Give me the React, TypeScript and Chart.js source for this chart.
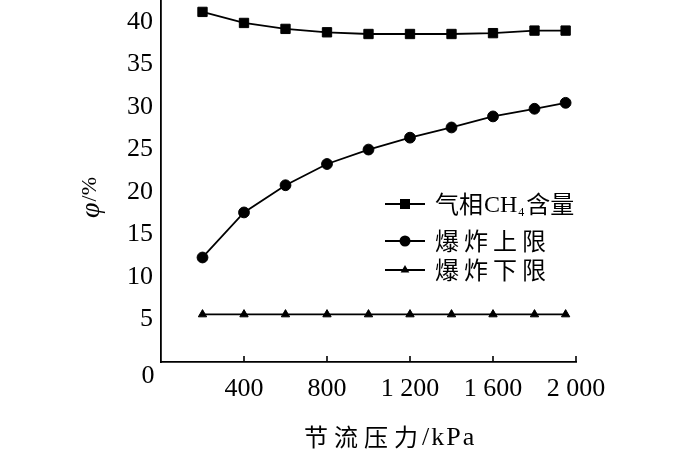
import React, { useEffect, useRef } from "react";
import { Chart, registerables } from "chart.js";
Chart.register(...registerables);

const pressure = [200, 400, 600, 800, 1000, 1200, 1400, 1600, 1800, 1950];
const ch4Content = [41.2, 39.9, 39.2, 38.8, 38.6, 38.6, 38.6, 38.7, 39.0, 39.0];
const upperLimit = [12.3, 17.6, 20.8, 23.3, 25.0, 26.4, 27.6, 28.9, 29.8, 30.5];
const lowerLimit = [5.6, 5.6, 5.6, 5.6, 5.6, 5.6, 5.6, 5.6, 5.6, 5.6];

const xTicks = [400, 800, 1200, 1600, 2000];
const xTickLabels = ["400", "800", "1 200", "1 600", "2 000"];
const yTicks = [5, 10, 15, 20, 25, 30, 35, 40];
const originLabel = "0";
const xTitleCjk = "节流压力";
const xTitleUnit = "/kPa";
const yTitleSymbol = "φ";
const yTitleUnit = "/%";
const seriesNames = ["爆炸上限", "爆炸下限"];
const ch4Name = { pre: "气相", chem: "CH", sub: "4", post: "含量" };

const SERIF = '"Liberation Serif", "DejaVu Serif", serif';
const CJK = '"Noto Sans CJK SC", sans-serif';

function drawMarker(ctx: CanvasRenderingContext2D, style: string, x: number, y: number) {
  ctx.beginPath();
  if (style === "rect") {
    ctx.rect(x - 5, y - 5, 10, 10);
  } else if (style === "circle") {
    ctx.arc(x, y, 5.5, 0, Math.PI * 2);
  } else {
    const r = 5;
    ctx.moveTo(x, y - r);
    ctx.lineTo(x + r * 0.866, y + r * 0.5);
    ctx.lineTo(x - r * 0.866, y + r * 0.5);
    ctx.closePath();
  }
  ctx.fill();
}

const decorPlugin = {
  id: "decor",
  afterDraw(chart: any) {
    const ctx: CanvasRenderingContext2D = chart.ctx;
    const xs = chart.scales.x;
    const ys = chart.scales.y;
    const y0 = ys.getPixelForValue(0);
    const left = chart.chartArea.left;
    ctx.save();
    ctx.strokeStyle = "#000";
    ctx.fillStyle = "#000";
    ctx.lineWidth = 1.6;
    // inward x ticks
    xTicks.forEach((v) => {
      const px = xs.getPixelForValue(v);
      ctx.beginPath();
      ctx.moveTo(px, y0);
      ctx.lineTo(px, y0 - 6);
      ctx.stroke();
    });
    // origin label
    ctx.font = `26px ${SERIF}`;
    ctx.textAlign = "center";
    ctx.textBaseline = "middle";
    ctx.fillText(originLabel, left - 13, y0 + 14);

    // x title
    ctx.textAlign = "left";
    ctx.textBaseline = "middle";
    (ctx as any).letterSpacing = "6px";
    ctx.font = `24px ${CJK}`;
    ctx.fillText(xTitleCjk, 304, 437);
    const w1 = ctx.measureText(xTitleCjk).width;
    (ctx as any).letterSpacing = "2px";
    ctx.font = `26px ${SERIF}`;
    ctx.fillText(xTitleUnit, 304 + w1 - 2, 438);

    // y title (rotated)
    ctx.save();
    ctx.translate(92, 198);
    ctx.rotate(-Math.PI / 2);
    (ctx as any).letterSpacing = "0px";
    ctx.font = `italic 28px ${SERIF}`;
    ctx.textAlign = "left";
    const ws = ctx.measureText(yTitleSymbol).width;
    ctx.font = `22px ${SERIF}`;
    const wu = ctx.measureText(yTitleUnit).width;
    const start = -(ws + wu) / 2;
    ctx.font = `italic 28px ${SERIF}`;
    ctx.fillText(yTitleSymbol, start, 0);
    ctx.font = `22px ${SERIF}`;
    ctx.fillText(yTitleUnit, start + ws + 1, -2);
    ctx.restore();

    // legend
    const rows = [
      { y: 204, style: "rect" },
      { y: 241, style: "circle" },
      { y: 270, style: "triangle" },
    ];
    rows.forEach((r) => {
      ctx.lineWidth = 1.8;
      ctx.beginPath();
      ctx.moveTo(385, r.y);
      ctx.lineTo(425, r.y);
      ctx.stroke();
      drawMarker(ctx, r.style, 405, r.y);
    });
    // row 1
    let tx = 435;
    (ctx as any).letterSpacing = "0px";
    ctx.font = `24px ${CJK}`;
    ctx.fillText(ch4Name.pre, tx, 204);
    tx += ctx.measureText(ch4Name.pre).width + 1;
    ctx.font = `24px ${SERIF}`;
    ctx.fillText(ch4Name.chem, tx, 206);
    tx += ctx.measureText(ch4Name.chem).width + 1;
    ctx.font = `12px ${SERIF}`;
    ctx.fillText(ch4Name.sub, tx, 213);
    tx += ctx.measureText(ch4Name.sub).width + 2;
    ctx.font = `24px ${CJK}`;
    ctx.fillText(ch4Name.post, tx, 204);
    // rows 2, 3
    (ctx as any).letterSpacing = "5px";
    ctx.fillText(seriesNames[0], 435, 241);
    ctx.fillText(seriesNames[1], 435, 270);
    ctx.restore();
  },
};

export default function App() {
  const ref = useRef<HTMLCanvasElement>(null);
  useEffect(() => {
    if (!ref.current) return;
    const common = {
      borderColor: "#000",
      backgroundColor: "#000",
      pointBackgroundColor: "#000",
      pointBorderColor: "#000",
      borderWidth: 1.8,
      pointBorderWidth: 1,
      tension: 0,
      clip: false as any,
    };
    const chart = new Chart(ref.current, {
      type: "line",
      data: {
        datasets: [
          { ...common, label: "气相CH4含量", data: pressure.map((p, i) => ({ x: p, y: ch4Content[i] })), pointStyle: "rect", pointRadius: 6.6 },
          { ...common, label: seriesNames[0], data: pressure.map((p, i) => ({ x: p, y: upperLimit[i] })), pointStyle: "circle", pointRadius: 5.4 },
          { ...common, label: seriesNames[1], data: pressure.map((p, i) => ({ x: p, y: lowerLimit[i] })), pointStyle: "triangle", pointRadius: 4.8 },
        ],
      },
      options: {
        responsive: false,
        animation: false,
        events: [],
        layout: { autoPadding: false, padding: { left: 0, right: 124, top: 0, bottom: 0 } },
        plugins: { legend: { display: false }, tooltip: { enabled: false } },
        scales: {
          x: {
            type: "linear",
            min: 0,
            max: 2000,
            grid: { display: false, drawTicks: false },
            border: { display: true, color: "#000", width: 1.8 },
            afterBuildTicks: (s: any) => { s.ticks = xTicks.map((v) => ({ value: v })); },
            ticks: {
              padding: 12,
              color: "#000",
              font: { family: SERIF, size: 26 },
              autoSkip: false,
              maxRotation: 0,
              callback: (v: any) => { const i = xTicks.indexOf(Number(v)); return i >= 0 ? xTickLabels[i] : ""; },
            },
            afterFit: (s: any) => { s.height = 99; s.paddingLeft = 0; s.paddingRight = 0; },
          },
          y: {
            type: "linear",
            min: 0,
            max: 42.6,
            grid: { display: false, drawTicks: false },
            border: { display: true, color: "#000", width: 1.8 },
            afterBuildTicks: (s: any) => { s.ticks = yTicks.map((v) => ({ value: v })); },
            ticks: {
              padding: 8,
              color: "#000",
              font: { family: SERIF, size: 26 },
              autoSkip: false,
            },
            afterFit: (s: any) => { s.width = 161; s.paddingTop = 0; s.paddingBottom = 0; },
          },
        },
      },
      plugins: [decorPlugin],
    });
    return () => chart.destroy();
  }, []);
  return (
    <div style={{ position: "fixed", left: 0, top: 0, width: 700, height: 461, background: "#fff" }}>
      <canvas ref={ref} width={700} height={461} style={{ width: 700, height: 461 }} />
    </div>
  );
}
